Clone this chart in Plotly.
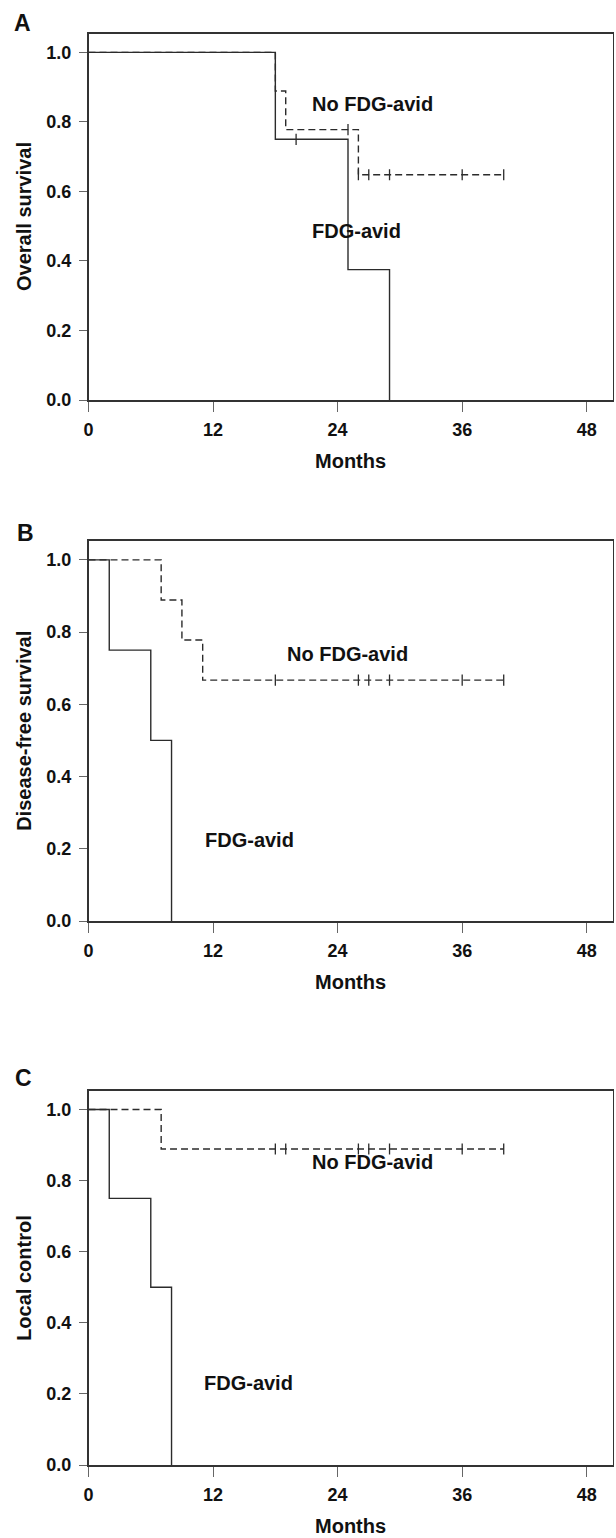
import plotly.graph_objects as go

# ---------------- data ----------------
panel_letters = ["A", "B", "C"]
y_titles = ["Overall survival", "Disease-free survival", "Local control"]
x_title = "Months"
x_ticks = [0, 12, 24, 36, 48]
y_ticks = [0.0, 0.2, 0.4, 0.6, 0.8, 1.0]

# Panel A - overall survival
a_fdg_t = [0, 18, 25, 29]
a_fdg_s = [1.0, 0.75, 0.375, 0.0]
a_fdg_cens_t = [20]
a_fdg_cens_s = [0.75]
a_no_t = [0, 18, 19, 26, 40]
a_no_s = [1.0, 0.889, 0.778, 0.648, 0.648]
a_no_cens_t = [25, 26, 27, 29, 36, 40]
a_no_cens_s = [0.778, 0.648, 0.648, 0.648, 0.648, 0.648]

# Panel B - disease-free survival
b_fdg_t = [0, 2, 6, 8]
b_fdg_s = [1.0, 0.75, 0.5, 0.0]
b_no_t = [0, 7, 9, 11, 40]
b_no_s = [1.0, 0.889, 0.778, 0.667, 0.667]
b_no_cens_t = [18, 26, 27, 29, 36, 40]
b_no_cens_s = [0.667, 0.667, 0.667, 0.667, 0.667, 0.667]

# Panel C - local control
c_fdg_t = [0, 2, 6, 8]
c_fdg_s = [1.0, 0.75, 0.5, 0.0]
c_no_t = [0, 7, 40]
c_no_s = [1.0, 0.889, 0.889]
c_no_cens_t = [18, 19, 26, 27, 29, 36, 40]
c_no_cens_s = [0.889, 0.889, 0.889, 0.889, 0.889, 0.889, 0.889]

# label anchors (data coords)
label_no = [(21.3, 0.851), (18.9, 0.738), (21.3, 0.853)]
label_fdg = [(21.3, 0.487), (11.0, 0.224), (10.9, 0.231)]

# ---------------- layout geometry ----------------
W, H = 616, 1538
FONT = "Liberation Sans, Arial, Helvetica, sans-serif"
LINE = "#2b2b2b"
x_dom = [88.5 / W, 612.7 / W]
panels_px = [(34, 400), (540.7, 921), (1090.7, 1465)]  # top, bottom in px
letter_px = [(22, 22.5), (25, 533), (23.5, 1078)]

fig = go.Figure()

panel_data = [
    (a_fdg_t, a_fdg_s, a_fdg_cens_t, a_fdg_cens_s, a_no_t, a_no_s, a_no_cens_t, a_no_cens_s),
    (b_fdg_t, b_fdg_s, [], [], b_no_t, b_no_s, b_no_cens_t, b_no_cens_s),
    (c_fdg_t, c_fdg_s, [], [], c_no_t, c_no_s, c_no_cens_t, c_no_cens_s),
]

annotations = []
for i, (ft, fs, fct, fcs, nt, ns, nct, ncs) in enumerate(panel_data):
    xa = "x" if i == 0 else f"x{i+1}"
    ya = "y" if i == 0 else f"y{i+1}"
    # dashed: no FDG-avid
    fig.add_trace(go.Scatter(x=nt, y=ns, mode="lines", line=dict(shape="hv", color=LINE, width=1.4, dash="7px,4px"),
                             xaxis=xa, yaxis=ya, showlegend=False, hoverinfo="skip"))
    # solid: FDG-avid
    fig.add_trace(go.Scatter(x=ft, y=fs, mode="lines", line=dict(shape="hv", color=LINE, width=1.4),
                             xaxis=xa, yaxis=ya, showlegend=False, hoverinfo="skip"))
    # censor marks
    for ct, cs in ((nct, ncs), (fct, fcs)):
        if ct:
            fig.add_trace(go.Scatter(x=ct, y=cs, mode="markers",
                                     marker=dict(symbol="line-ns-open", size=8, color=LINE,
                                                 line=dict(color=LINE, width=1.3)),
                                     xaxis=xa, yaxis=ya, showlegend=False, hoverinfo="skip"))

    top, bot = panels_px[i]
    y_dom = [1 - bot / H, 1 - top / H]
    axis_common = dict(showline=True, linecolor="#333333", linewidth=1.6, mirror=True,
                       showgrid=False, zeroline=False, ticks="outside", tickcolor="#666666",
                       tickwidth=1, automargin=False, fixedrange=True,
                       tickfont=dict(family=FONT, size=18, color="#111111", weight="bold"))
    fig.update_layout(**{
        ("xaxis" if i == 0 else f"xaxis{i+1}"): dict(
            domain=x_dom, range=[0, 50.5], tickvals=x_ticks, ticklen=10,
            anchor=ya, ticklabelstandoff=3, **axis_common),
        ("yaxis" if i == 0 else f"yaxis{i+1}"): dict(
            domain=y_dom, range=[0, 1.053], tickvals=y_ticks, tickformat=".1f", ticklen=8,
            anchor=xa, ticklabelstandoff=4, **axis_common),
    })

    # curve labels
    annotations.append(dict(x=label_no[i][0], y=label_no[i][1], xref=xa, yref=ya, text="No FDG-avid",
                            showarrow=False, xanchor="left", yanchor="middle",
                            font=dict(family=FONT, size=20, color="#111111", weight="bold")))
    annotations.append(dict(x=label_fdg[i][0], y=label_fdg[i][1], xref=xa, yref=ya, text="FDG-avid",
                            showarrow=False, xanchor="left", yanchor="middle",
                            font=dict(family=FONT, size=20, color="#111111", weight="bold")))
    # axis titles
    annotations.append(dict(x=24 / W, y=1 - (top + bot) / 2 / H, xref="paper", yref="paper",
                            text=y_titles[i], textangle=-90, showarrow=False,
                            xanchor="center", yanchor="middle",
                            font=dict(family=FONT, size=20, color="#111111", weight="bold")))
    annotations.append(dict(x=(x_dom[0] + x_dom[1]) / 2, y=1 - (bot + 61) / H, xref="paper", yref="paper",
                            text=x_title, showarrow=False, xanchor="center", yanchor="middle",
                            font=dict(family=FONT, size=20, color="#111111", weight="bold")))
    # panel letter
    lx, ly = letter_px[i]
    annotations.append(dict(x=lx / W, y=1 - ly / H, xref="paper", yref="paper", text=panel_letters[i],
                            showarrow=False, xanchor="center", yanchor="middle",
                            font=dict(family=FONT, size=23, color="#111111", weight="bold")))

fig.update_layout(width=W, height=H, margin=dict(l=0, r=0, t=0, b=0),
                  paper_bgcolor="white", plot_bgcolor="white", annotations=annotations,
                  showlegend=False)

fig.write_html("out.html", config={"displayModeBar": False, "staticPlot": True},
               post_script="document.body.style.margin='0';document.body.style.overflow='hidden';")
